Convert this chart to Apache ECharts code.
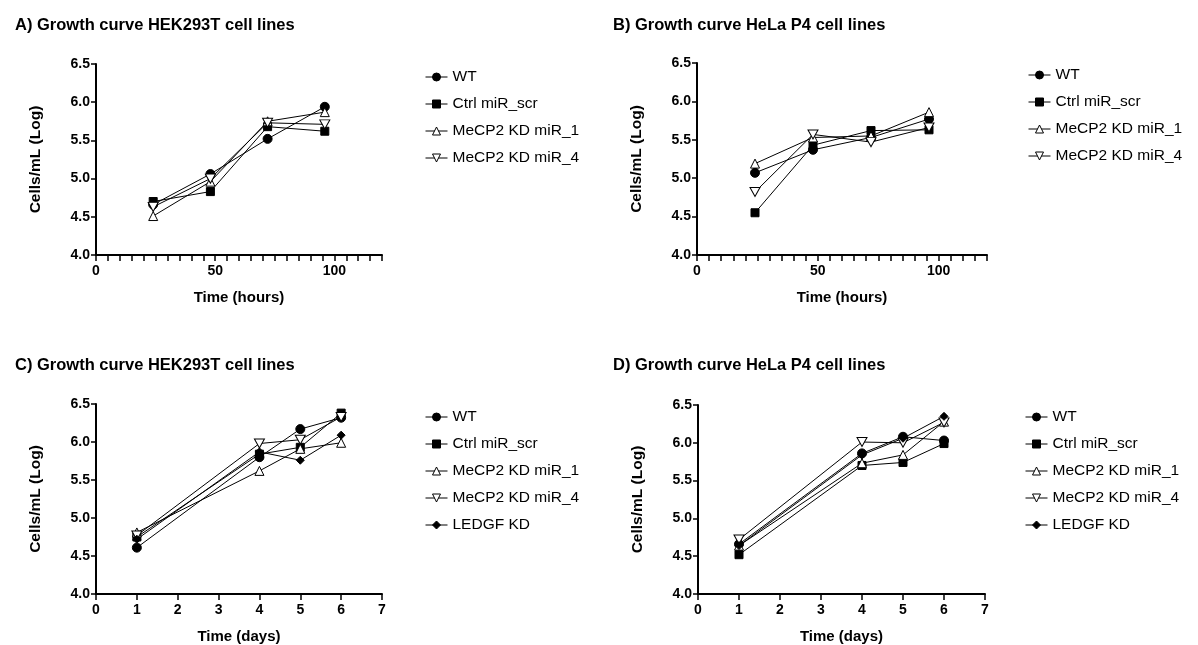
<!DOCTYPE html>
<html>
<head>
<meta charset="utf-8">
<script src="https://cdn.jsdelivr.net/npm/echarts@6/dist/echarts.min.js"></script>
<style>
  html, body { margin: 0; padding: 0; background: #fff; }
  #chart { width: 1198px; height: 645px; }
</style>
</head>
<body>
<div id="chart"></div>
<script>
const hoursAB = [24, 48, 72, 96];
const daysCD = [1, 4, 5, 6];
const namesAB = ['WT', 'Ctrl miR_scr', 'MeCP2 KD miR_1', 'MeCP2 KD miR_4'];
const namesCD = ['WT', 'Ctrl miR_scr', 'MeCP2 KD miR_1', 'MeCP2 KD miR_4', 'LEDGF KD'];

// A) HEK293T, hours
const aWT = [4.66, 5.06, 5.52, 5.94];
const aCtrl = [4.70, 4.83, 5.68, 5.62];
const aMiR1 = [4.51, 4.96, 5.75, 5.87];
const aMiR4 = [4.63, 5.00, 5.73, 5.71];
// B) HeLa P4, hours
const bWT = [5.07, 5.37, 5.53, 5.77];
const bCtrl = [4.55, 5.43, 5.62, 5.63];
const bMiR1 = [5.19, 5.53, 5.55, 5.86];
const bMiR4 = [4.82, 5.57, 5.47, 5.66];
// C) HEK293T, days
const cWT = [4.61, 5.80, 6.17, 6.32];
const cCtrl = [4.75, 5.84, 5.93, 6.38];
const cMiR1 = [4.81, 5.62, 5.91, 5.99];
const cMiR4 = [4.77, 5.98, 6.03, 6.33];
const cLedgf = [4.72, 5.87, 5.76, 6.09];
// D) HeLa P4, days
const dWT = [4.66, 5.86, 6.08, 6.03];
const dCtrl = [4.52, 5.70, 5.74, 5.99];
const dMiR1 = [4.64, 5.73, 5.84, 6.28];
const dMiR4 = [4.72, 6.01, 6.00, 6.27];
const dLedgf = [4.64, 5.84, 6.06, 6.35];

const titles = [
  'A) Growth curve HEK293T cell lines',
  'B) Growth curve HeLa P4 cell lines',
  'C) Growth curve HEK293T cell lines',
  'D) Growth curve HeLa P4 cell lines'
];

const FONT = '"Liberation Sans", Arial, sans-serif';
const downTri = 'path://M0,0 L10,0 L5,9 Z';

const markers = {
  'WT': { symbol: 'circle', symbolSize: 9, fill: '#000' },
  'Ctrl miR_scr': { symbol: 'rect', symbolSize: 8, fill: '#000' },
  'MeCP2 KD miR_1': { symbol: 'triangle', symbolSize: 9, fill: '#fff' },
  'MeCP2 KD miR_4': { symbol: downTri, symbolSize: [10, 9], fill: '#fff' },
  'LEDGF KD': { symbol: 'diamond', symbolSize: 8, fill: '#000' }
};

const grids = [
  { left: 96, top: 64, width: 286, height: 191 },
  { left: 697, top: 63, width: 290, height: 192 },
  { left: 96, top: 404, width: 286, height: 191 },
  { left: 698, top: 405, width: 287, height: 190 }
];

const makeSeries = (name, xs, ys, idx) => {
  const m = markers[name];
  return {
    name: name,
    type: 'line',
    xAxisIndex: idx,
    yAxisIndex: idx,
    data: xs.map((x, i) => [x, ys[i]]),
    symbol: m.symbol,
    symbolSize: m.symbolSize,
    showAllSymbol: true,
    itemStyle: { color: m.fill, borderColor: '#000', borderWidth: 1 },
    lineStyle: { color: '#000', width: 1 },
    emphasis: { disabled: true },
    animation: false
  };
};

const xAxes = grids.map((g, i) => {
  const hours = i < 2;
  return {
    type: 'value',
    gridIndex: i,
    min: 0,
    max: hours ? 120 : 7,
    interval: hours ? 5 : 1,
    name: hours ? 'Time (hours)' : 'Time (days)',
    nameLocation: 'middle',
    nameGap: 35,
    nameTextStyle: { fontFamily: FONT, fontWeight: 'bold', fontSize: 15, color: '#000' },
    axisLine: { lineStyle: { color: '#000', width: 2 } },
    axisTick: { length: 6, lineStyle: { color: '#000', width: 1.5 } },
    axisLabel: {
      fontFamily: FONT, fontWeight: 'bold', fontSize: 14, color: '#000', margin: 9,
      formatter: (v) => (hours ? (v % 50 === 0 ? String(v) : '') : String(v))
    },
    splitLine: { show: false }
  };
});

const yAxes = grids.map((g, i) => ({
  type: 'value',
  gridIndex: i,
  min: 4,
  max: 6.5,
  interval: 0.5,
  name: 'Cells/mL (Log)',
  nameLocation: 'middle',
  nameGap: 52,
  nameTextStyle: { fontFamily: FONT, fontWeight: 'bold', fontSize: 15.5, color: '#000' },
  axisLine: { show: true, lineStyle: { color: '#000', width: 2 } },
  axisTick: { show: true, length: 5, lineStyle: { color: '#000', width: 1.5 } },
  axisLabel: {
    fontFamily: FONT, fontWeight: 'bold', fontSize: 14, color: '#000', margin: 6,
    formatter: (v) => v.toFixed(1)
  },
  splitLine: { show: false }
}));

const legendPos = [
  { left: 425, top: 69 },
  { left: 1028, top: 67 },
  { left: 425, top: 409 },
  { left: 1025, top: 409 }
];

const option = {
  backgroundColor: '#fff',
  animation: false,
  title: titles.map((t, i) => ({
    text: t,
    left: i % 2 === 0 ? 10 : 608,
    top: i < 2 ? 12 : 352,
    textStyle: { fontFamily: FONT, fontWeight: 'bold', fontSize: 16.5, color: '#000' }
  })),
  legend: legendPos.map((p, i) => ({
    orient: 'vertical',
    left: p.left,
    top: p.top,
    padding: 0,
    data: i < 2 ? namesAB : namesCD,
    itemWidth: 22,
    itemHeight: 10,
    itemGap: 11,
    selectedMode: false,
    lineStyle: { width: 1, color: '#000' },
    itemStyle: { borderWidth: 1, borderColor: '#000' },
    textStyle: { fontFamily: FONT, fontSize: 15.5, color: '#000' }
  })),
  grid: grids,
  xAxis: xAxes,
  yAxis: yAxes,
  series: [
    makeSeries('WT', hoursAB, aWT, 0),
    makeSeries('Ctrl miR_scr', hoursAB, aCtrl, 0),
    makeSeries('MeCP2 KD miR_1', hoursAB, aMiR1, 0),
    makeSeries('MeCP2 KD miR_4', hoursAB, aMiR4, 0),
    makeSeries('WT', hoursAB, bWT, 1),
    makeSeries('Ctrl miR_scr', hoursAB, bCtrl, 1),
    makeSeries('MeCP2 KD miR_1', hoursAB, bMiR1, 1),
    makeSeries('MeCP2 KD miR_4', hoursAB, bMiR4, 1),
    makeSeries('WT', daysCD, cWT, 2),
    makeSeries('Ctrl miR_scr', daysCD, cCtrl, 2),
    makeSeries('MeCP2 KD miR_1', daysCD, cMiR1, 2),
    makeSeries('MeCP2 KD miR_4', daysCD, cMiR4, 2),
    makeSeries('LEDGF KD', daysCD, cLedgf, 2),
    makeSeries('WT', daysCD, dWT, 3),
    makeSeries('Ctrl miR_scr', daysCD, dCtrl, 3),
    makeSeries('MeCP2 KD miR_1', daysCD, dMiR1, 3),
    makeSeries('MeCP2 KD miR_4', daysCD, dMiR4, 3),
    makeSeries('LEDGF KD', daysCD, dLedgf, 3)
  ]
};

const chart = echarts.init(document.getElementById('chart'));
chart.setOption(option);
</script>
</body>
</html>
